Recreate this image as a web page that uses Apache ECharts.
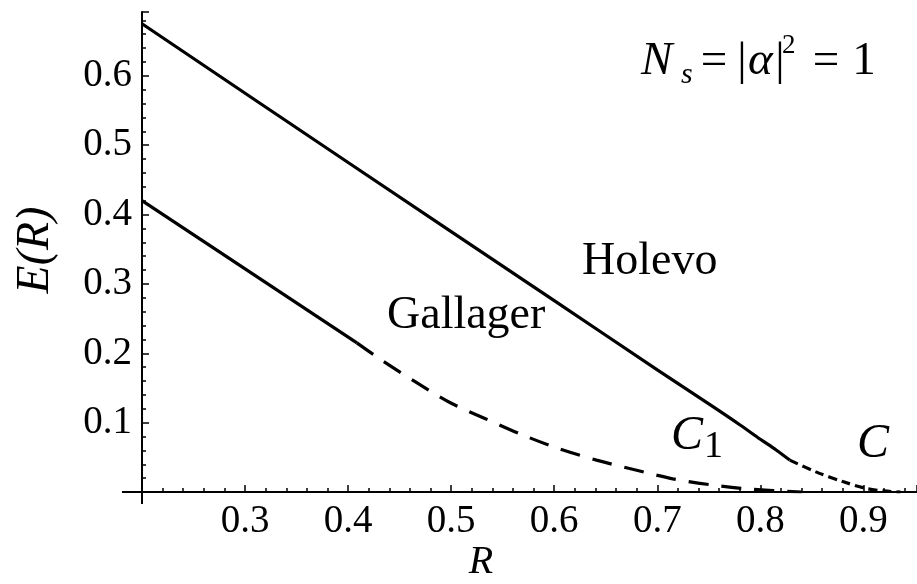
<!DOCTYPE html>
<html>
<head>
<meta charset="utf-8">
<script src="https://cdn.jsdelivr.net/npm/echarts@6/dist/echarts.min.js"></script>
<style>
  html, body { margin: 0; padding: 0; background: #fff; }
  #main { width: 917px; height: 584px; }
</style>
</head>
<body>
<div id="main"></div>
<script>
// values
const holevoSolid = [
  [0.2, 0.675], [0.4, 0.475], [0.6, 0.276], [0.7, 0.176], [0.75, 0.127],
  [0.78, 0.097], [0.8, 0.076], [0.815, 0.061], [0.8285, 0.046]
]
const holevoTail = [
  [0.8285, 0.046], [0.854, 0.029], [0.88, 0.015], [0.903, 0.005], [0.92, 0.0015], [0.936, 0]
]
const gallagerSolid = [[0.2, 0.42], [0.4085, 0.215]]
const gallagerTail = [
  [0.4085, 0.215], [0.4325, 0.19], [0.465, 0.159], [0.4987, 0.129], [0.5327, 0.106],
  [0.568, 0.083], [0.6035, 0.063], [0.641, 0.046], [0.678, 0.032], [0.715, 0.019],
  [0.754, 0.010], [0.791, 0.004], [0.84, 0]
]
const xRange = [0.2, 0.952]
const yRange = [0, 0.692]

const serif = '"Liberation Serif", "Times New Roman", serif'
const black = '#000'

const chart = echarts.init(document.getElementById('main'))

function curve(data, dash) {
  return {
    type: 'line',
    data: data,
    showSymbol: false,
    smooth: 0.3,
    silent: true,
    lineStyle: { color: black, width: 3.2, type: dash || 'solid' }
  }
}

function txt(text, x, y, size, opts) {
  opts = opts || {}
  return {
    type: 'text',
    x: x,
    y: y,
    rotation: opts.rotation || 0,
    style: {
      text: text,
      fill: black,
      font: (opts.italic ? 'italic ' : '') + size + 'px ' + serif,
      align: opts.align || 'left',
      verticalAlign: 'middle'
    }
  }
}

chart.setOption({
  animation: false,
  backgroundColor: '#fff',
  grid: { left: 142, right: 0, top: 12, bottom: 92 },
  xAxis: {
    type: 'value',
    min: xRange[0],
    max: xRange[1],
    interval: 0.1,
    splitLine: { show: false },
    axisLine: { lineStyle: { color: black, width: 2 } },
    axisTick: { inside: true, length: 7, lineStyle: { color: black, width: 1.5 } },
    minorTick: { show: true, splitNumber: 5, length: 4, lineStyle: { color: black, width: 1.5 } },
    axisLabel: {
      showMinLabel: false,
      showMaxLabel: false,
      margin: 10,
      color: black,
      fontFamily: serif,
      fontSize: 39,
      formatter: v => v.toFixed(1)
    }
  },
  yAxis: {
    type: 'value',
    min: yRange[0],
    max: yRange[1],
    interval: 0.1,
    splitLine: { show: false },
    axisLine: { lineStyle: { color: black, width: 2 } },
    axisTick: { inside: true, length: 7, lineStyle: { color: black, width: 1.5 } },
    minorTick: { show: true, splitNumber: 5, length: 4, lineStyle: { color: black, width: 1.5 } },
    axisLabel: {
      showMinLabel: false,
      showMaxLabel: false,
      margin: 10,
      color: black,
      fontFamily: serif,
      fontSize: 39,
      formatter: v => v.toFixed(1)
    }
  },
  series: [
    curve(holevoSolid),
    curve(holevoTail, [9, 5]),
    curve(gallagerSolid),
    curve(gallagerTail, [20, 13])
  ]
})

// axis stubs past the crossing point, and the annotations
const o = chart.convertToPixel({ gridIndex: 0 }, [xRange[0], yRange[0]])
chart.setOption({
  graphic: [
    { type: 'line', shape: { x1: o[0] - 20, y1: o[1], x2: o[0], y2: o[1] }, style: { stroke: black, lineWidth: 2 } },
    { type: 'line', shape: { x1: o[0], y1: o[1], x2: o[0], y2: o[1] + 12 }, style: { stroke: black, lineWidth: 2 } },

    txt('E(R)', 36, 250, 46, { italic: true, align: 'center', rotation: Math.PI / 2 }),
    txt('R', 481, 562, 40, { italic: true, align: 'center' }),

    txt('Holevo', 582, 262, 46),
    txt('Gallager', 387, 316, 46),

    txt('C', 671, 436, 48, { italic: true }),
    txt('1', 704, 447, 38),
    txt('C', 857, 444, 48, { italic: true }),

    txt('N', 641, 62, 47, { italic: true }),
    txt('s', 681, 75, 30, { italic: true }),
    txt('=', 714, 62, 47, { align: 'center' }),
    txt('|', 742, 62, 47, { align: 'center' }),
    txt('α', 748, 62, 47, { italic: true }),
    txt('|', 780, 62, 47, { align: 'center' }),
    txt('2', 782, 46, 27),
    txt('=', 826, 62, 47, { align: 'center' }),
    txt('1', 864, 62, 47, { align: 'center' })
  ]
})
</script>
</body>
</html>
